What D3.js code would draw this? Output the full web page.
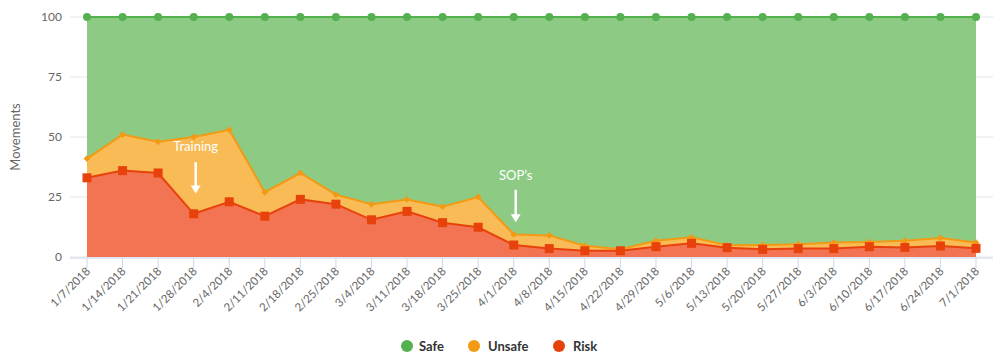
<!DOCTYPE html>
<html><head><meta charset="utf-8">
<script src="https://cdn.jsdelivr.net/npm/d3@7"></script>
<style>body{margin:0;background:#fff;font-family:Lato,"Open Sans",sans-serif;}</style>
</head><body><svg id="c" width="1000" height="359"></svg>
<script>
const categories = ["1/7/2018","1/14/2018","1/21/2018","1/28/2018","2/4/2018","2/11/2018","2/18/2018","2/25/2018","3/4/2018","3/11/2018","3/18/2018","3/25/2018","4/1/2018","4/8/2018","4/15/2018","4/22/2018","4/29/2018","5/6/2018","5/13/2018","5/20/2018","5/27/2018","6/3/2018","6/10/2018","6/17/2018","6/24/2018","7/1/2018"];
const risk   = [33,36,35,18,23,17,24,22,15.5,19,14.3,12.4,5,3.5,2.6,2.6,4.3,5.7,3.9,3.2,3.5,3.5,4.3,4,4.6,3.6];
const unsafe = [8,15,13,32,30,10,11,4,6.5,5,6.7,12.6,4.4,5.5,2.1,0.6,2.5,2.5,1,1.8,1.8,2.5,2,2.8,3.3,2.4];
const safe   = risk.map((r,i)=>100-r-unsafe[i]);
const yTicks = [0,25,50,75,100];
const annotations = [{label:"Training", idx:3, textVal:44, arrowTop:39.5, arrowBot:26.5}, {label:"SOP\u2019s", idx:12, textVal:32, arrowTop:28, arrowBot:14.5}];

const svg = d3.select("#c");
const x = d3.scaleLinear().domain([0, categories.length-1]).range([87, 976]);
const y = d3.scaleLinear().domain([0,100]).range([257, 17]);

svg.append("g").selectAll("line").data(yTicks).join("line")
  .attr("x1",70).attr("x2",993).attr("y1",d=>y(d)).attr("y2",d=>y(d))
  .attr("stroke","#e6e6e6").attr("stroke-width",1);
svg.append("g").selectAll("text").data(yTicks).join("text")
  .attr("x",62).attr("y",d=>y(d)+4).attr("text-anchor","end")
  .attr("font-size",12).attr("fill","#666").text(d=>d);
svg.append("text").attr("transform","translate(20,137) rotate(-90)")
  .attr("text-anchor","middle").attr("font-size",13).attr("fill","#666").text("Movements");

const series = [
  {name:"Risk", vals:risk, line:"#e8420c", fill:"#f27452", shape:"square"},
  {name:"Unsafe", vals:unsafe, line:"#f29a13", fill:"#f8bb55", shape:"diamond"},
  {name:"Safe", vals:safe, line:"#55b04f", fill:"#8dcb85", shape:"circle"}
];
let base = categories.map(()=>0);
series.forEach(s=>{
  s.lo = base.slice();
  s.hi = base.map((b,i)=>b+s.vals[i]);
  base = s.hi;
});
const area = d3.area().x((d,i)=>x(i)).y0(d=>y(d[0])).y1(d=>y(d[1]));
const line = d3.line().x((d,i)=>x(i)).y(d=>y(d));
[...series].reverse().forEach(s=>{
  svg.append("path").datum(s.lo.map((l,i)=>[l,s.hi[i]])).attr("d",area).attr("fill",s.fill);
});
[...series].reverse().forEach(s=>{
  svg.append("path").datum(s.hi).attr("d",line).attr("fill","none").attr("stroke",s.line).attr("stroke-width",2);
  const g = svg.append("g");
  s.hi.forEach((v,i)=>{
    if(s.shape==="circle") g.append("circle").attr("cx",x(i)).attr("cy",y(v)).attr("r",4).attr("fill",s.line);
    else if(s.shape==="square") g.append("rect").attr("x",x(i)-4.5).attr("y",y(v)-4.5).attr("width",9).attr("height",9).attr("fill",s.line);
    else g.append("path").attr("d",d3.symbol(d3.symbolDiamond2,30)()).attr("transform",`translate(${x(i)},${y(v)})`).attr("fill",s.line);
  });
});

svg.append("line").attr("x1",70).attr("x2",993).attr("y1",258).attr("y2",258).attr("stroke","#ccd6eb");
const xg = svg.append("g");
categories.forEach((c,i)=>{
  xg.append("line").attr("x1",x(i)).attr("x2",x(i)).attr("y1",258).attr("y2",268).attr("stroke","#ccd6eb");
  xg.append("text").attr("transform",`translate(${x(i)+4},${272}) rotate(-45)`)
    .attr("text-anchor","end").attr("font-size",11.5).attr("fill","#666").text(c);
});

annotations.forEach(a=>{
  const ax = x(a.idx)+2;
  svg.append("text").attr("x",ax).attr("y",y(a.textVal)).attr("text-anchor","middle")
    .attr("font-size",13).attr("fill","#fff").text(a.label);
  const y1 = y(a.arrowTop), y2 = y(a.arrowBot);
  svg.append("line").attr("x1",ax).attr("x2",ax).attr("y1",y1).attr("y2",y2-6).attr("stroke","#fff").attr("stroke-width",2.5);
  svg.append("path").attr("d",`M${ax-5},${y2-8}L${ax+5},${y2-8}L${ax},${y2}Z`).attr("fill","#fff");
});

const legend = [{name:"Safe",color:"#55b04f",cx:407,tx:419},{name:"Unsafe",color:"#f29a13",cx:474,tx:488},{name:"Risk",color:"#e8420c",cx:559,tx:573}];
legend.forEach(l=>{
  svg.append("circle").attr("cx",l.cx).attr("cy",346).attr("r",6).attr("fill",l.color);
  svg.append("text").attr("x",l.tx).attr("y",351).attr("font-size",13).attr("font-weight","bold").attr("fill","#333").text(l.name);
});
</script></body></html>
